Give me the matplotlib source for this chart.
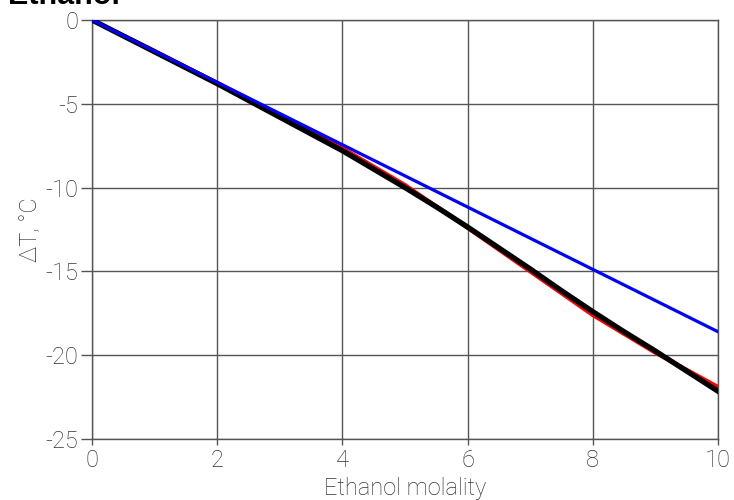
import numpy as np
import matplotlib.pyplot as plt

plt.rcParams['font.family'] = ['Roboto', 'DejaVu Sans']
plt.rcParams['axes.unicode_minus'] = False

# data
molality = [0, 0.5, 1, 1.5, 2, 2.5, 3, 3.5, 4, 4.5, 5, 5.5, 6, 6.5, 7, 7.5, 8, 8.5, 9, 9.5, 10]
dT_measured = [0, -0.95, -1.9, -2.85, -3.8, -4.8, -5.8, -6.8, -7.8, -8.9, -10.0,
               -11.15, -12.35, -13.6, -14.85, -16.15, -17.4, -18.6, -19.75, -20.95, -22.15]

m_fit = [0, 1, 2, 3, 4, 5, 6, 7, 8, 9, 10]
dT_fit = [0, -1.85, -3.75, -5.65, -7.65, -9.85, -12.4, -15.0, -17.6, -19.85, -21.9]

m_ideal = [0, 10]
dT_ideal = [0, -18.6]

xticks = [0, 2, 4, 6, 8, 10]
yticks = [0, -5, -10, -15, -20, -25]

fig = plt.figure(figsize=(7.34, 5), dpi=100)
ax = fig.add_axes([92/734, 1 - 439/500, 626/734, 419/500])

ax.plot(m_fit, dT_fit, color='#ff0000', lw=3.0, zorder=3)
ax.plot(molality, dT_measured, color='black', lw=3.8, zorder=4)
ax.plot(m_ideal, dT_ideal, color='#0000ff', lw=2.3, zorder=5)

ax.set_xlim(0, 10)
ax.set_ylim(-25, 0)
ax.set_xticks(xticks)
ax.set_yticks(yticks)
ax.set_xticklabels([str(t) for t in xticks])
ax.set_yticklabels([str(t) for t in yticks])
ax.grid(True, color='#555555', lw=1.0)
for s in ax.spines.values():
    s.set_color('#555555')
    s.set_linewidth(1.0)
ax.tick_params(axis='y', length=8, width=1.0, color='#555555', pad=2,
               labelsize=17, labelcolor='#333333')
ax.tick_params(axis='x', length=4, width=1.0, color='#555555', pad=3,
               labelsize=17, labelcolor='#333333')
for lab in ax.get_xticklabels() + ax.get_yticklabels():
    lab.set_fontweight('light')

ax.set_xlabel('Ethanol molality', fontsize=17, fontweight='light', color='#333333', labelpad=4)
ax.set_ylabel('ΔT, °C', fontsize=17, fontweight='light', color='#333333', labelpad=2)

fig.text(8/734, 1 - 4/500, 'Ethanol', fontsize=22, fontweight='bold',
         family='Liberation Sans', va='baseline', ha='left')

fig.savefig('out.png', dpi=100)
